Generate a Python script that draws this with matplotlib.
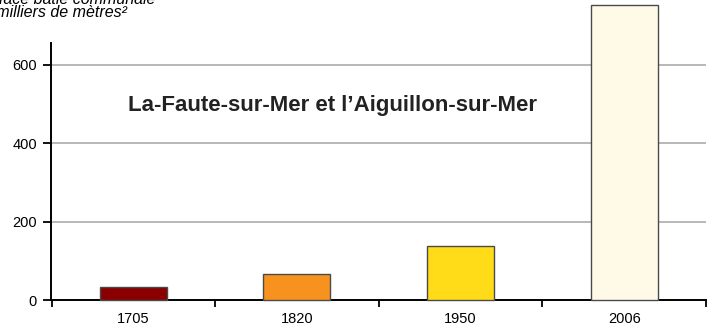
import numpy as np
import matplotlib
matplotlib.use("Agg")
import matplotlib.pyplot as plt

plt.rcParams['font.family'] = ['Liberation Sans', 'DejaVu Sans']

YEARS = ['1705', '1820', '1950', '2006']
SURFACE = [34, 66, 138, 752]  # milliers de m²
COLORS = ['#8a0000', '#f7921e', '#ffdc17', '#fffae8']
YTICKS = [0, 200, 400, 600]

W, H = 714, 329
fig = plt.figure(figsize=(W / 100, H / 100), dpi=100)
ax = fig.add_axes([51.5 / W, 1 - 300 / H, (706 - 51.5) / W, 257 / H])

x = np.arange(len(YEARS))
ax.bar(x, SURFACE, width=0.41, color=COLORS, edgecolor='#4a4a4a',
       linewidth=1.0, zorder=3, clip_on=False)

ax.set_xlim(-0.5, len(YEARS) - 0.5)
ax.set_ylim(0, 655)

# horizontal grid
for v in YTICKS[1:]:
    ax.axhline(v, color='#b8b8b8', lw=1.4, zorder=1)

ax.set_yticks(YTICKS)
ax.set_yticklabels([str(v) for v in YTICKS], fontsize=10.5)
ax.set_xticks(x)
ax.set_xticklabels(YEARS, fontsize=10.5)
ax.tick_params(axis='x', length=0, pad=8.5)
ax.tick_params(axis='y', length=5.5, width=1.3, direction='out', pad=5)

# separators between categories on the x axis
ax.set_xticks(np.arange(len(YEARS) + 1) - 0.5, minor=True)
ax.tick_params(axis='x', which='minor', length=5, width=1.3, direction='out')

for side in ['top', 'right']:
    ax.spines[side].set_visible(False)
ax.spines['left'].set_linewidth(1.4)
ax.spines['bottom'].set_linewidth(1.4)

ax.text((333 - 51.5) / 654.5, (300 - 106) / 257,
        "La-Faute-sur-Mer et l\u2019Aiguillon-sur-Mer",
        transform=ax.transAxes, ha='center', va='center',
        fontsize=16, fontweight='bold', color='#222222')

# unit label, top left
fig.text(-26 / W, 1 - 3.5 / H, "Surface b\u00e2tie communale",
         ha='left', va='baseline', fontsize=11.5, style='italic')
fig.text(-26 / W, 1 - 17 / H, "en milliers de m\u00e8tres\u00b2",
         ha='left', va='baseline', fontsize=11.5, style='italic')

fig.savefig('out.png', dpi=100)
